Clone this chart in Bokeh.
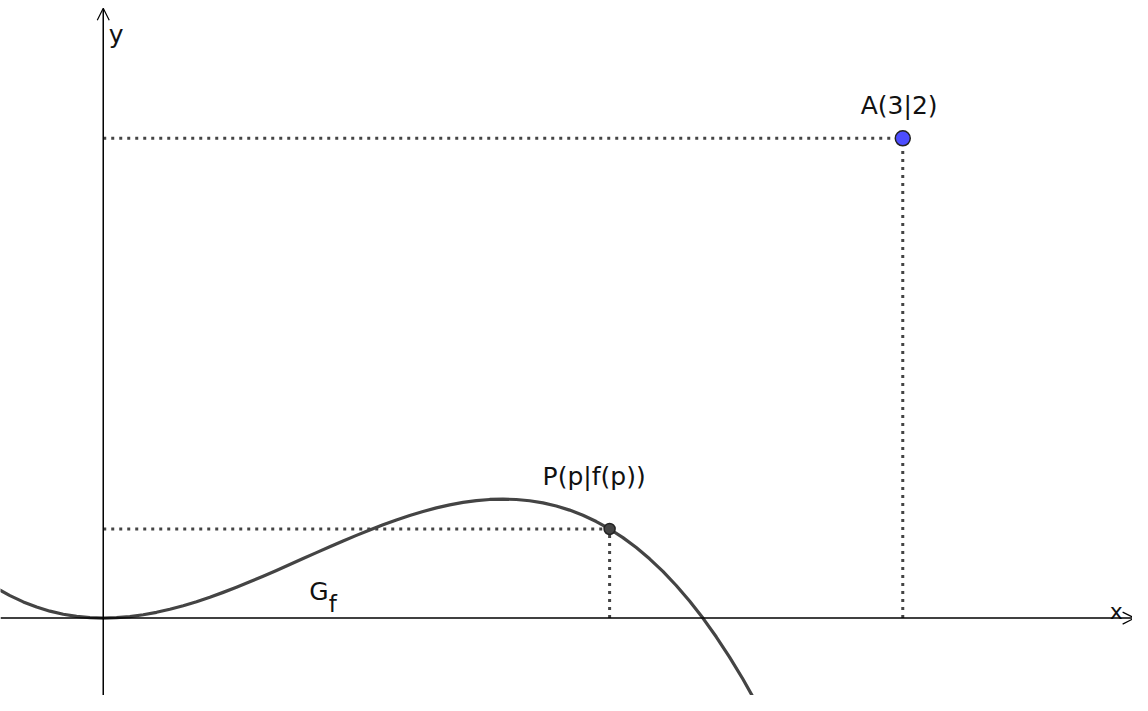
from bokeh.plotting import figure
from bokeh.models import Arrow, OpenHead, Range1d
from bokeh.core.properties import value
from bokeh.embed import file_html
from bokeh.resources import INLINE

# graph G_f
curve_x = [-0.4, -0.35, -0.3, -0.25, -0.2, -0.15, -0.1, -0.05, 0.0, 0.05, 0.1, 0.15, 0.2,
           0.25, 0.3, 0.35, 0.4, 0.45, 0.5, 0.55, 0.6, 0.65, 0.7, 0.75, 0.8, 0.85, 0.9,
           0.95, 1.0, 1.05, 1.1, 1.15, 1.2, 1.25, 1.3, 1.35, 1.4, 1.45, 1.5, 1.55, 1.6,
           1.65, 1.7, 1.75, 1.8, 1.85, 1.9, 1.95, 2.0, 2.05, 2.1, 2.15, 2.2, 2.25, 2.3,
           2.35, 2.4, 2.45, 2.5]
curve_y = [0.1247, 0.0936, 0.0675, 0.0459, 0.0288, 0.0159, 0.0069, 0.0017, 0.0, 0.0016,
           0.0063, 0.0139, 0.0241, 0.0368, 0.0516, 0.0684, 0.0870, 0.1072, 0.1286, 0.1512,
           0.1746, 0.1987, 0.2233, 0.2481, 0.2728, 0.2974, 0.3215, 0.3449, 0.3675, 0.3890,
           0.4091, 0.4277, 0.4445, 0.4594, 0.4720, 0.4822, 0.4898, 0.4945, 0.4961, 0.4944,
           0.4892, 0.4802, 0.4673, 0.4502, 0.4287, 0.4025, 0.3715, 0.3354, 0.2940, 0.2471,
           0.1945, 0.1359, 0.0711, 0.0, -0.0778, -0.1624, -0.2540, -0.3529, -0.4594]

# points
A_x, A_y = 3.0, 2.0
P_x, P_y = 1.9, 0.3715
A_label = "A(3|2)"
P_label = "P(p|f(p))"

FONT = "DejaVu Sans"
X0, X1 = -0.3855, 3.862
Y0, Y1 = -0.3227, 2.5746

p = figure(width=1132, height=695, output_backend="svg", toolbar_location=None,
           x_range=Range1d(X0, X1), y_range=Range1d(Y0, Y1),
           min_border=0, outline_line_color=None, background_fill_color="white",
           border_fill_color="white")
p.xaxis.visible = False
p.yaxis.visible = False
p.xgrid.visible = False
p.ygrid.visible = False

# dotted helper lines
dot_col = "#444444"
p.segment(x0=[0, A_x, 0, P_x], y0=[A_y, 0, P_y, 0],
          x1=[A_x, A_x, P_x, P_x], y1=[A_y, A_y, P_y, P_y],
          line_color=dot_col, line_width=3, line_dash="3 5")

# axes
p.add_layout(Arrow(x_start=X0, y_start=0, x_end=3.87, y_end=0,
                   line_color="black", line_width=1.5,
                   end=OpenHead(size=12, line_color="black", line_width=1.2)))
p.add_layout(Arrow(x_start=0, y_start=Y0, x_end=0, y_end=2.542,
                   line_color="black", line_width=1.5,
                   end=OpenHead(size=12, line_color="black", line_width=1.2)))

# curve
p.line(curve_x, curve_y, line_color="#444444", line_width=3.2, line_join="round")

# points
p.scatter([A_x], [A_y], size=15, fill_color="#4d4dff", line_color="#222222", line_width=1.5)
p.scatter([P_x], [P_y], size=11, fill_color="#444444", line_color="#222222", line_width=1.5)

# labels
p.text([A_x], [A_y], text=[A_label], x_offset=-42, y_offset=-33,
       text_font=value(FONT), text_font_size="25px", text_color="#111111",
       text_baseline="alphabetic", text_align="left")
p.text([P_x], [P_y], text=[P_label], x_offset=-67, y_offset=-52,
       text_font=value(FONT), text_font_size="25px", text_color="#111111",
       text_baseline="alphabetic", text_align="left")
p.text([0.7726], [0.1092], text=["G"], text_font=value(FONT), text_font_size="25px",
       text_color="#111111", text_baseline="alphabetic", text_align="left")
p.text([0.8466], [0.0603], text=["f"], text_font=value(FONT), text_font_size="23px",
       text_color="#111111", text_baseline="alphabetic", text_align="left")
p.text([0.021], [2.434], text=["y"], text_font=value(FONT), text_font_size="25px",
       text_color="#111111", text_baseline="alphabetic", text_align="left")
p.text([3.777], [0.0277], text=["x"], text_font=value(FONT), text_font_size="22px",
       text_color="#111111", text_baseline="alphabetic", text_align="left")

open("out.html", "w").write(file_html(p, INLINE))
